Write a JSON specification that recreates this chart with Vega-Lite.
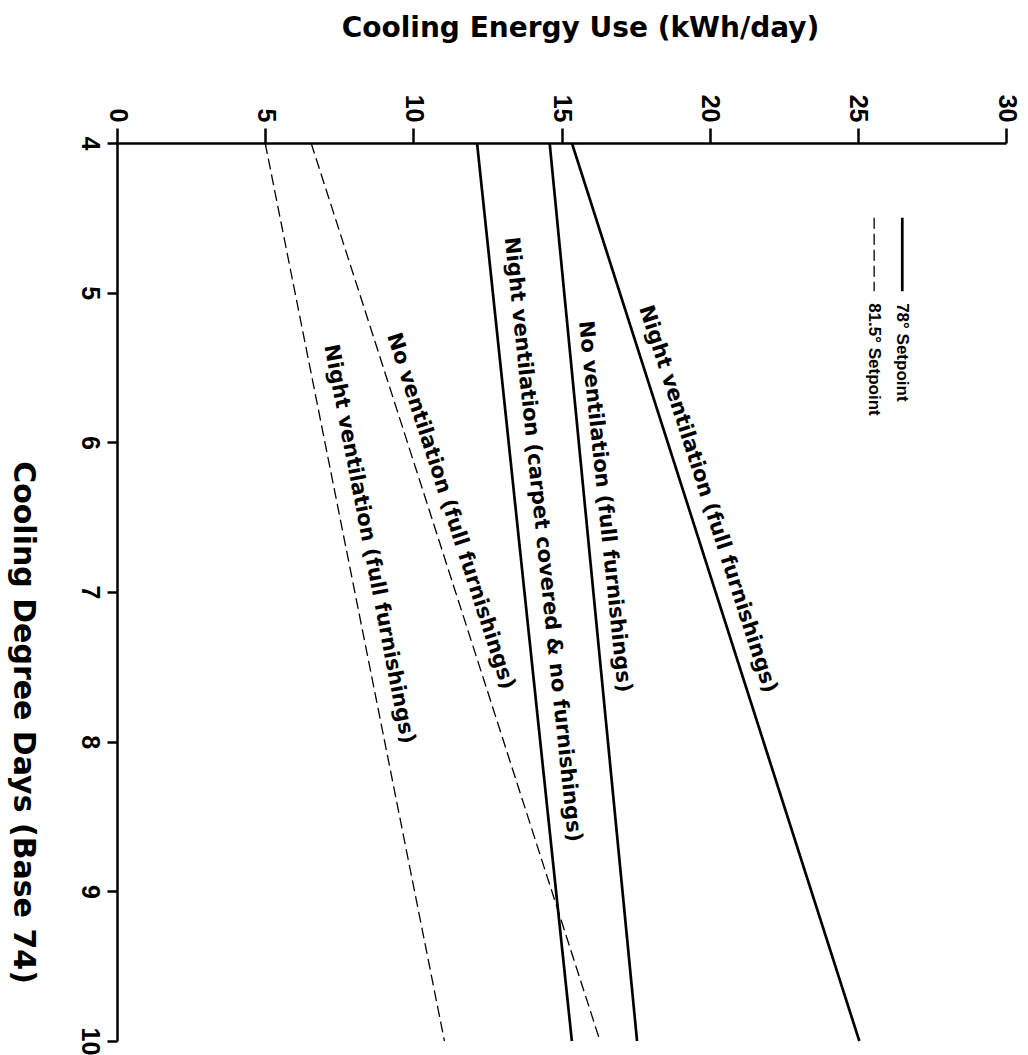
{
  "$schema": "https://vega.github.io/schema/vega-lite/v6.json",
  "width": 889,
  "height": 898,
  "autosize": {"type": "none"},
  "padding": {"left": 117, "top": 143, "right": 22, "bottom": 14},
  "background": "white",
  "datasets": {
    "runs": [
      {"series": "Night ventilation (full furnishings), 78", "setpoint": "78° Setpoint", "cdd": 4, "energy": 15.35},
      {"series": "Night ventilation (full furnishings), 78", "setpoint": "78° Setpoint", "cdd": 10, "energy": 25.05},
      {"series": "No ventilation (full furnishings), 78", "setpoint": "78° Setpoint", "cdd": 4, "energy": 14.6},
      {"series": "No ventilation (full furnishings), 78", "setpoint": "78° Setpoint", "cdd": 10, "energy": 17.55},
      {"series": "Night ventilation (carpet covered & no furnishings), 78", "setpoint": "78° Setpoint", "cdd": 4, "energy": 12.15},
      {"series": "Night ventilation (carpet covered & no furnishings), 78", "setpoint": "78° Setpoint", "cdd": 10, "energy": 15.35},
      {"series": "No ventilation (full furnishings), 81.5", "setpoint": "81.5° Setpoint", "cdd": 4, "energy": 6.55},
      {"series": "No ventilation (full furnishings), 81.5", "setpoint": "81.5° Setpoint", "cdd": 10, "energy": 16.3},
      {"series": "Night ventilation (full furnishings), 81.5", "setpoint": "81.5° Setpoint", "cdd": 4, "energy": 5.0},
      {"series": "Night ventilation (full furnishings), 81.5", "setpoint": "81.5° Setpoint", "cdd": 10, "energy": 11.05}
    ],
    "runLabels": [
      {"key": "nv78", "label": "Night ventilation (full furnishings)", "energy": 19.93, "cdd": 6.38},
      {"key": "no78", "label": "No ventilation (full furnishings)", "energy": 16.45, "cdd": 6.43},
      {"key": "cp78", "label": "Night ventilation (carpet covered & no furnishings)", "energy": 14.36, "cdd": 6.65},
      {"key": "no815", "label": "No ventilation (full furnishings)", "energy": 11.25, "cdd": 6.46},
      {"key": "nv815", "label": "Night ventilation (full furnishings)", "energy": 8.5, "cdd": 6.68}
    ],
    "key": [
      {"setpoint": "78° Setpoint", "energy": 26.5, "cdd": 4.5, "cddEnd": 4.99, "cddText": 5.07},
      {"setpoint": "81.5° Setpoint", "energy": 25.55, "cdd": 4.5, "cddEnd": 4.99, "cddText": 5.07}
    ]
  },
  "config": {
    "view": {"stroke": null},
    "axis": {
      "grid": false,
      "ticks": true,
      "domainColor": "black",
      "domainWidth": 2.5,
      "tickColor": "black",
      "tickWidth": 2.5,
      "labelColor": "black",
      "labelFont": "Liberation Sans",
      "labelFontWeight": "bold",
      "labelFontSize": 25,
      "labelFlush": false,
      "labelOverlap": false,
      "labelBound": false,
      "titleColor": "black",
      "titleFont": "DejaVu Sans",
      "titleFontWeight": "bold"
    }
  },
  "encoding": {
    "x": {
      "field": "energy",
      "type": "quantitative",
      "scale": {"domain": [0, 30], "nice": false, "zero": false},
      "axis": {
        "orient": "top",
        "values": [0, 5, 10, 15, 20, 25, 30],
        "labelAngle": 90,
        "labelAlign": "right",
        "labelBaseline": "middle",
        "tickSize": 15,
        "labelPadding": 6,
        "title": "Cooling Energy Use (kWh/day)",
        "titleFontSize": 28,
        "titleAngle": 0,
        "titleAlign": "center",
        "titleBaseline": "alphabetic",
        "titleX": 463,
        "titleY": -107
      }
    },
    "y": {
      "field": "cdd",
      "type": "quantitative",
      "scale": {"domain": [4, 10], "reverse": true, "nice": false, "zero": false},
      "axis": {
        "orient": "left",
        "values": [4, 5, 6, 7, 8, 9, 10],
        "labelAngle": 90,
        "labelAlign": "center",
        "labelBaseline": "top",
        "tickSize": 10,
        "labelPadding": 6,
        "title": "Cooling Degree Days (Base 74)",
        "titleFontSize": 30,
        "titleAngle": 90,
        "titleAlign": "center",
        "titleBaseline": "middle",
        "titleX": -95,
        "titleY": 579
      }
    }
  },
  "layer": [
    {
      "data": {"name": "runs"},
      "mark": {"type": "line", "color": "black"},
      "encoding": {
        "detail": {"field": "series"},
        "strokeDash": {
          "field": "setpoint",
          "type": "nominal",
          "scale": {"domain": ["78° Setpoint", "81.5° Setpoint"], "range": [[1, 0], [11, 5]]},
          "legend": null
        },
        "strokeWidth": {
          "field": "setpoint",
          "type": "nominal",
          "scale": {"domain": ["78° Setpoint", "81.5° Setpoint"], "range": [2.7, 1.3]},
          "legend": null
        }
      }
    },
    {
      "data": {"name": "key"},
      "mark": {"type": "rule", "color": "black"},
      "encoding": {
        "y2": {"field": "cddEnd"},
        "strokeDash": {
          "field": "setpoint",
          "type": "nominal",
          "scale": {"domain": ["78° Setpoint", "81.5° Setpoint"], "range": [[1, 0], [11, 5]]},
          "legend": null
        },
        "strokeWidth": {
          "field": "setpoint",
          "type": "nominal",
          "scale": {"domain": ["78° Setpoint", "81.5° Setpoint"], "range": [2.7, 1.3]},
          "legend": null
        }
      }
    },
    {
      "data": {"name": "key"},
      "mark": {"type": "text", "angle": 90, "align": "left", "baseline": "middle", "font": "Liberation Sans", "fontWeight": "bold", "fontSize": 17, "color": "black"},
      "encoding": {
        "y": {"field": "cddText", "type": "quantitative"},
        "text": {"field": "setpoint"}
      }
    },
    {
      "data": {"name": "runLabels"},
      "transform": [{"filter": "datum.key == 'nv78' || datum.key == 'no815'"}],
      "mark": {"type": "text", "angle": 72, "align": "center", "baseline": "middle", "font": "DejaVu Sans", "fontWeight": "bold", "fontSize": 21, "color": "black"},
      "encoding": {"text": {"field": "label"}}
    },
    {
      "data": {"name": "runLabels"},
      "transform": [{"filter": "datum.key == 'no78' || datum.key == 'cp78'"}],
      "mark": {"type": "text", "angle": 84, "align": "center", "baseline": "middle", "font": "DejaVu Sans", "fontWeight": "bold", "fontSize": 21, "color": "black"},
      "encoding": {"text": {"field": "label"}}
    },
    {
      "data": {"name": "runLabels"},
      "transform": [{"filter": "datum.key == 'nv815'"}],
      "mark": {"type": "text", "angle": 79, "align": "center", "baseline": "middle", "font": "DejaVu Sans", "fontWeight": "bold", "fontSize": 21, "color": "black"},
      "encoding": {"text": {"field": "label"}}
    }
  ]
}
